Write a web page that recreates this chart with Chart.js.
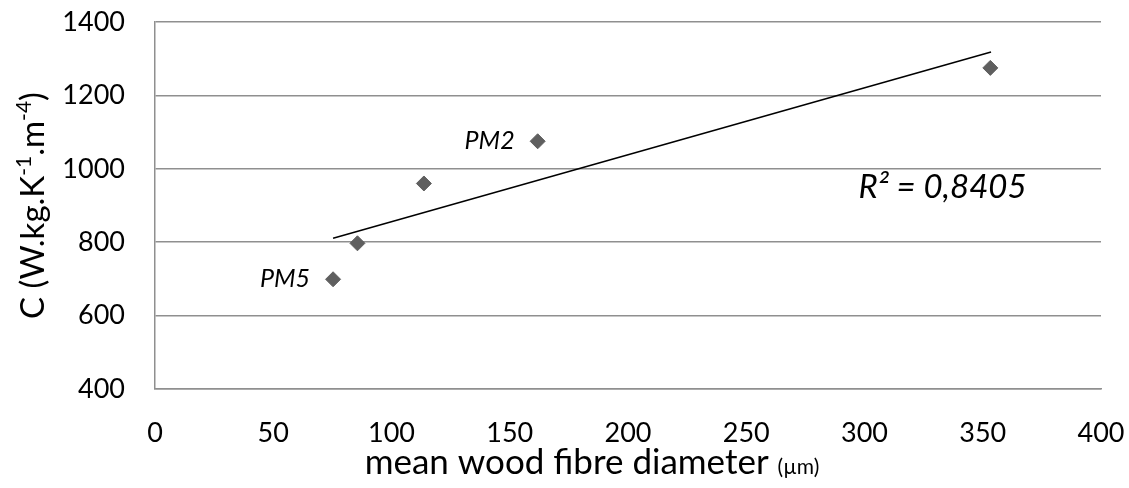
<!DOCTYPE html>
<html>
<head>
<meta charset="utf-8">
<script src="https://cdn.jsdelivr.net/npm/chart.js@4/dist/chart.umd.min.js"></script>
<style>
  html, body { margin: 0; padding: 0; background: #fff; }
  #wrap { width: 1129px; height: 488px; }
</style>
</head>
<body>
<div id="wrap"><canvas id="chart" width="1129" height="488"></canvas></div>
<script>
// values
var fibreDiameter = [75.3, 85.6, 113.7, 161.8, 353.2];
var conductance = [699, 797, 960, 1075, 1275];
var pointNames = ['PM5', '', '', 'PM2', ''];
// linear trendline ends (as drawn)
var trendX = [75.3, 353.5];
var trendY = [811, 1318];
var r2Text = 'R\u00b2 = 0,8405';
var xTicks = [0, 50, 100, 150, 200, 250, 300, 350, 400];
var yTicks = [400, 600, 800, 1000, 1200, 1400];

var FONT = 'Lato, "Open Sans", sans-serif';

// axis titles, point names and R² drawn on the canvas
var textPlugin = {
    id: 'texts',
    afterDraw: function (chart) {
        var ctx = chart.ctx;
        var area = chart.chartArea;
        var xs = chart.scales.x, ys = chart.scales.y;
        ctx.save();
        ctx.fillStyle = '#000';

        // point labels
        ctx.font = 'italic 25px ' + FONT;
        ctx.textAlign = 'right';
        ctx.textBaseline = 'middle';
        pointNames.forEach(function (name, i) {
            if (!name) return;
            ctx.fillText(name, xs.getPixelForValue(fibreDiameter[i]) - 23, ys.getPixelForValue(conductance[i]));
        });

        // R² annotation
        ctx.font = 'italic 33px ' + FONT;
        ctx.textAlign = 'left';
        ctx.fillText(r2Text, xs.getPixelForValue(297.5), ys.getPixelForValue(950));

        // x title
        var main = 'mean wood fibre diameter ';
        var unit = '(\u00b5m)';
        ctx.font = '35px ' + FONT;
        var w1 = ctx.measureText(main).width;
        ctx.font = '21px ' + FONT;
        var w2 = ctx.measureText(unit).width;
        var startX = 592 - (w1 + w2) / 2;
        ctx.textBaseline = 'alphabetic';
        ctx.font = '35px ' + FONT;
        ctx.fillText(main, startX, 474);
        ctx.font = '21px ' + FONT;
        ctx.fillText(unit, startX + w1, 474);

        // y title, rotated, with superscripts
        var parts = [['C (W.kg.K', false], ['-1', true], ['.m', false], ['-4', true], [')', false]];
        var total = 0;
        parts.forEach(function (p) {
            ctx.font = (p[1] ? '21px ' : '33px ') + FONT;
            total += ctx.measureText(p[0]).width;
        });
        ctx.translate(44, (area.top + area.bottom) / 2);
        ctx.rotate(-Math.PI / 2);
        var px = -total / 2;
        parts.forEach(function (p) {
            ctx.font = (p[1] ? '21px ' : '33px ') + FONT;
            ctx.fillText(p[0], px, p[1] ? -13 : 0);
            px += ctx.measureText(p[0]).width;
        });
        ctx.restore();
    }
};

new Chart(document.getElementById('chart'), {
    type: 'scatter',
    data: {
        datasets: [{
            label: 'C',
            data: fibreDiameter.map(function (x, i) { return { x: x, y: conductance[i] }; }),
            pointStyle: 'rectRot',
            pointRadius: 7.5,
            pointHoverRadius: 7.5,
            backgroundColor: '#5f5f5f',
            borderColor: '#5f5f5f',
            borderWidth: 1,
            order: 1
        }, {
            label: 'trend',
            type: 'line',
            data: trendX.map(function (x, i) { return { x: x, y: trendY[i] }; }),
            borderColor: '#000',
            borderWidth: 1.5,
            pointRadius: 0,
            fill: false,
            order: 2
        }]
    },
    options: {
        responsive: false,
        animation: false,
        layout: { padding: { top: 22, right: 28, left: 0, bottom: 0 } },
        plugins: {
            legend: { display: false },
            tooltip: { enabled: false }
        },
        scales: {
            x: {
                type: 'linear',
                min: 0,
                max: 400,
                afterBuildTicks: function (scale) {
                    scale.ticks = xTicks.map(function (v) { return { value: v }; });
                },
                afterFit: function (scale) {
                    scale.height = 99;
                    scale.paddingLeft = 0;
                    scale.paddingRight = 0;
                },
                grid: { display: false, drawTicks: false },
                border: { display: true, color: '#8f8f8f', width: 1.5 },
                ticks: {
                    color: '#000',
                    font: { family: FONT, size: 27 },
                    padding: 28,
                    maxRotation: 0,
                    autoSkip: false,
                    callback: function (v) { return String(v); }
                }
            },
            y: {
                type: 'linear',
                min: 400,
                max: 1400,
                afterBuildTicks: function (scale) {
                    scale.ticks = yTicks.map(function (v) { return { value: v }; });
                },
                afterFit: function (scale) {
                    scale.width = 155;
                    scale.paddingTop = 0;
                    scale.paddingBottom = 0;
                },
                grid: { color: '#8f8f8f', lineWidth: 1.5, drawTicks: false },
                border: { display: true, color: '#8f8f8f', width: 1.5 },
                ticks: {
                    color: '#000',
                    font: { family: FONT, size: 27 },
                    padding: 30,
                    callback: function (v) { return String(v); }
                }
            }
        }
    },
    plugins: [textPlugin]
});
</script>
</body>
</html>
